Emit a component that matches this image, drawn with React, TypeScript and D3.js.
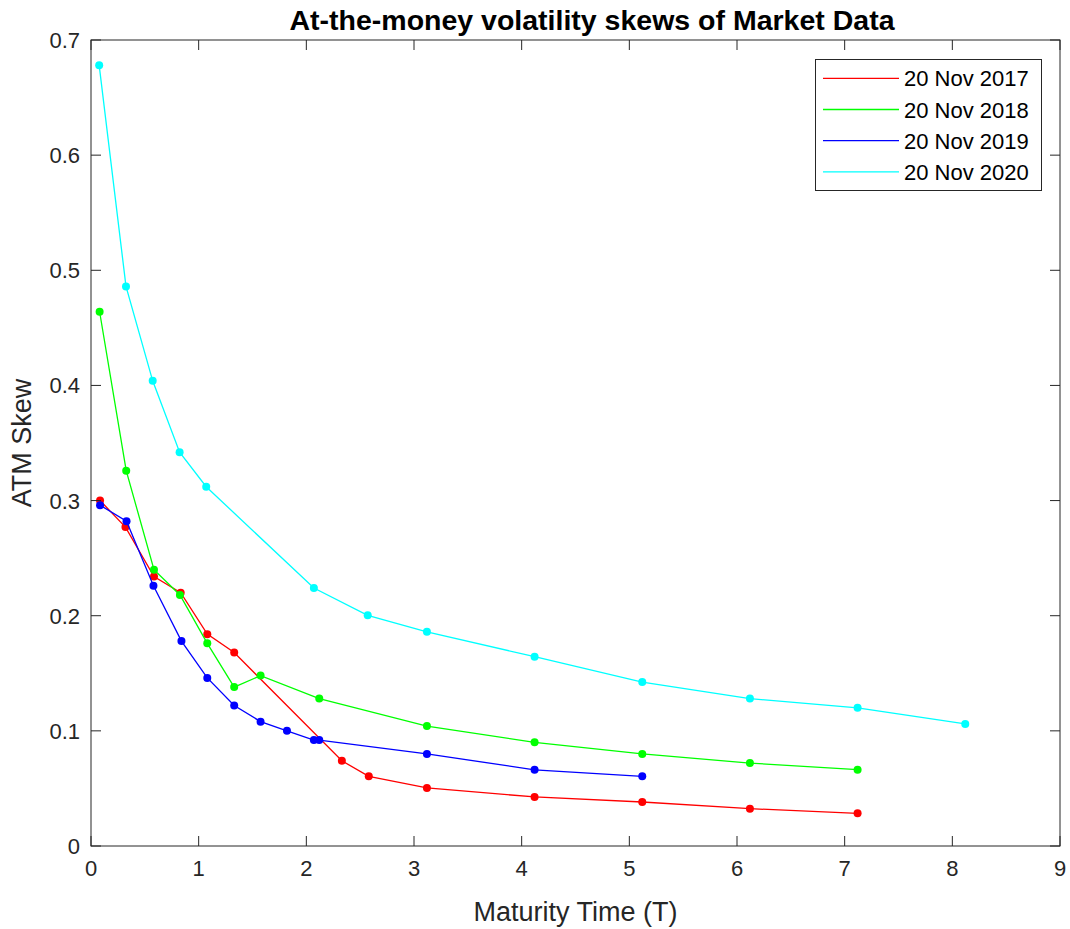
import React from "react";
import * as d3 from "d3";

const T2017 = [0.084, 0.32, 0.585, 0.833, 1.08, 1.33, 2.33, 2.58, 3.12, 4.12, 5.12, 6.12, 7.12];
const S2017 = [0.300, 0.277, 0.234, 0.220, 0.184, 0.168, 0.074, 0.0605, 0.0504, 0.0426, 0.0382, 0.0324, 0.0284];

const T2018 = [0.08, 0.327, 0.585, 0.826, 1.08, 1.33, 1.575, 2.12, 3.12, 4.12, 5.12, 6.12, 7.12];
const S2018 = [0.464, 0.326, 0.240, 0.218, 0.176, 0.138, 0.148, 0.128, 0.1042, 0.090, 0.080, 0.072, 0.0663];

const T2019 = [0.084, 0.33, 0.58, 0.84, 1.08, 1.33, 1.575, 1.82, 2.07, 2.12, 3.12, 4.12, 5.12];
const S2019 = [0.296, 0.282, 0.226, 0.178, 0.146, 0.122, 0.108, 0.100, 0.092, 0.092, 0.080, 0.0662, 0.0605];

const T2020 = [0.076, 0.325, 0.573, 0.823, 1.07, 2.07, 2.57, 3.12, 4.12, 5.12, 6.12, 7.12, 8.12];
const S2020 = [0.678, 0.486, 0.404, 0.342, 0.312, 0.224, 0.2003, 0.186, 0.1644, 0.1424, 0.128, 0.120, 0.106];

const seriesNames = ["20 Nov 2017", "20 Nov 2018", "20 Nov 2019", "20 Nov 2020"];
const seriesColors = ["#ff0000", "#00ff00", "#0000ff", "#00ffff"];
const xTicks = [0, 1, 2, 3, 4, 5, 6, 7, 8, 9];
const yTicks = [0, 0.1, 0.2, 0.3, 0.4, 0.5, 0.6, 0.7];

const W = 1070, H = 929;
const L = 91, R = 1060, TOP = 40, BOT = 846;
const FONT = "'Liberation Sans', Arial, Helvetica, sans-serif";
const AX = "#262626";

export default function App() {
  const x = d3.scaleLinear().domain([0, 9]).range([L, R]);
  const y = d3.scaleLinear().domain([0, 0.7]).range([BOT, TOP]);
  const data = [
    [T2017, S2017],
    [T2018, S2018],
    [T2019, S2019],
    [T2020, S2020],
  ];
  const line = d3
    .line<[number, number]>()
    .x((d) => x(d[0]))
    .y((d) => y(d[1]));
  const tl = 10;
  return (
    <svg width={W} height={H} style={{ position: "absolute", left: 0, top: 0, background: "#fff" }} fontFamily={FONT}>
      <rect x={0} y={0} width={W} height={H} fill="#fff" />
      {data.map(([ts, ss], i) => {
        const pts = ts.map((t, j) => [t, ss[j]] as [number, number]);
        return (
          <g key={i}>
            <path d={line(pts) || ""} fill="none" stroke={seriesColors[i]} strokeWidth={1.3} />
            {pts.map((p, j) => (
              <circle key={j} cx={x(p[0])} cy={y(p[1])} r={4} fill={seriesColors[i]} />
            ))}
          </g>
        );
      })}
      <rect x={L} y={TOP} width={R - L} height={BOT - TOP} fill="none" stroke={AX} strokeWidth={1} />
      {xTicks.map((t) => (
        <g key={"x" + t}>
          <line x1={x(t)} x2={x(t)} y1={BOT} y2={BOT - tl} stroke={AX} />
          <line x1={x(t)} x2={x(t)} y1={TOP} y2={TOP + tl} stroke={AX} />
          <text x={x(t)} y={BOT + 30} textAnchor="middle" fontSize={22} fill={AX}>
            {t}
          </text>
        </g>
      ))}
      {yTicks.map((t) => (
        <g key={"y" + t}>
          <line x1={L} x2={L + tl} y1={y(t)} y2={y(t)} stroke={AX} />
          <line x1={R} x2={R - tl} y1={y(t)} y2={y(t)} stroke={AX} />
          <text x={L - 11} y={y(t) + 8} textAnchor="end" fontSize={22} fill={AX}>
            {d3.format("")(+t.toFixed(1))}
          </text>
        </g>
      ))}
      <text x={592} y={30} textAnchor="middle" fontSize={28.5} fontWeight="bold" fill="#000">
        At-the-money volatility skews of Market Data
      </text>
      <text x={(L + R) / 2} y={921} textAnchor="middle" fontSize={27} fill={AX}>
        Maturity Time (T)
      </text>
      <text transform={`translate(31, ${(TOP + BOT) / 2}) rotate(-90)`} textAnchor="middle" fontSize={27} fill={AX}>
        ATM Skew
      </text>
      <g>
        <rect x={815.5} y={59.5} width={226} height={131} fill="#fff" stroke={AX} strokeWidth={1} />
        {seriesNames.map((n, i) => {
          const ly = 78.3 + i * 31.2;
          return (
            <g key={n}>
              <line x1={823} x2={899} y1={ly} y2={ly} stroke={seriesColors[i]} strokeWidth={1.3} />
              <text x={904} y={ly + 8} fontSize={22} fill="#000">
                {n}
              </text>
            </g>
          );
        })}
      </g>
    </svg>
  );
}
